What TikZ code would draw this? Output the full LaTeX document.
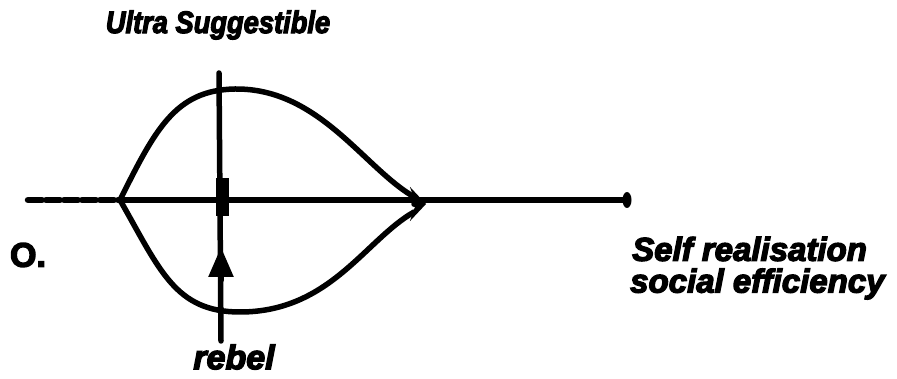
\documentclass[tikz,border=0pt]{standalone}
\usepackage{fontspec}
\setmainfont{Liberation Sans}
\newfontfamily\hvit[FakeBold=4]{Liberation Sans Bold Italic}
\newfontfamily\hvup[FakeBold=4]{Liberation Sans Bold}
\usetikzlibrary{arrows.meta}
\tikzset{
  stroke/.style={line width=5.5pt, line cap=round, line join=round, black},
  lbl/.style={inner sep=0pt, anchor=center},
}
\begin{document}
\begin{tikzpicture}[x=1pt,y=-1pt]
\useasboundingbox[fill=white] (0,0) rectangle (897,379);
% key points
\coordinate (axL) at (28,200);
\coordinate (split) at (120,200);
\coordinate (cross) at (221,200);
\coordinate (tip) at (426,204);
\coordinate (tipback) at (414,204);
\coordinate (axR) at (627,200);
\coordinate (vtop) at (219,73);
\coordinate (vbot) at (221,341);
\coordinate (vtip) at (221,247);
\coordinate (vbase) at (221,280);
% horizontal axis
\draw[stroke, line width=6.5pt, dash pattern=on 14pt off 4pt] (axL) -- (split);
\draw[stroke, line width=6.5pt] (split) -- (axR);
\fill (axR) ellipse [x radius=4.5pt, y radius=8pt];
% vertical axis
\draw[stroke] (vtop) -- (vbot);
\fill (216,178) rectangle (229,216);
\draw[stroke, -{Triangle[width=24pt,length=30pt]}] (vbase) -- (vtip);
% upper curve
\draw[stroke] (split)
  .. controls (155,130) and (175,90) .. (235,89)
  .. controls (320,88) and (365,170) .. (416,198);
% lower curve
\draw[stroke] (split)
  .. controls (160,270) and (175,312) .. (240,312)
  .. controls (330,312) and (365,240) .. (414,212);
% arrowhead where the curves meet
\draw[stroke, -{Stealth[width=34pt,length=16pt,inset=6pt]}] (tipback) -- (tip);
% labels
\node[lbl, font=\fontsize{31}{33}\selectfont\hvit, xscale=0.88] (ultra) at (218,25) {Ultra Suggestible};
\node[lbl, font=\fontsize{34}{36}\selectfont\hvit] (rebel) at (234,357) {rebel};
\node[lbl, font=\fontsize{34}{36}\selectfont\hvup] (origin) at (28,255) {O.};
\node[lbl, font=\fontsize{33}{35}\selectfont\hvit, anchor=west] (self) at (632,249) {Self realisation};
\node[lbl, font=\fontsize{33}{35}\selectfont\hvit, anchor=west] (social) at (630,284) {social efficiency};
\end{tikzpicture}
\end{document}
